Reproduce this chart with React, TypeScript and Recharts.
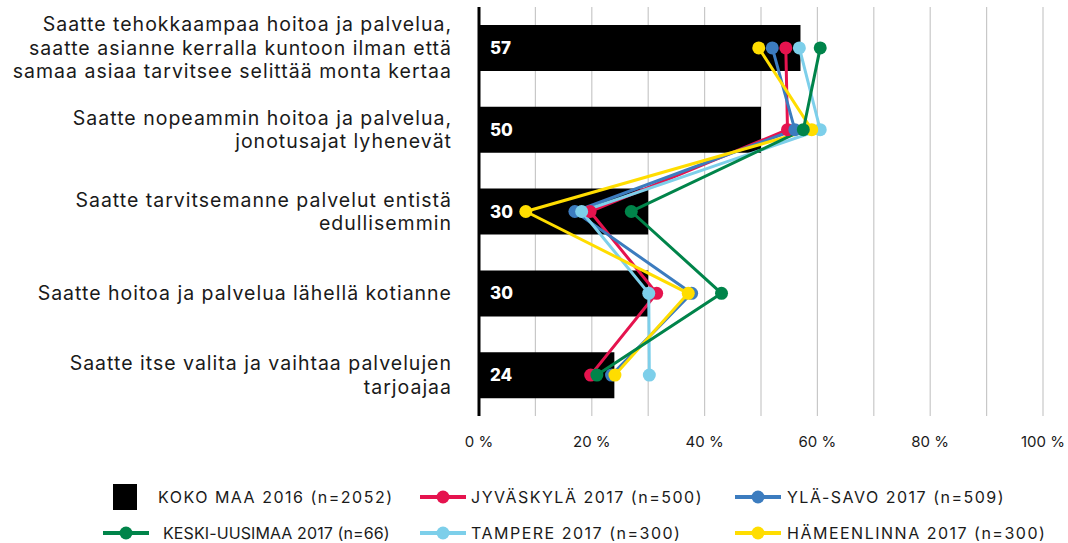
import React from 'react';
import { ComposedChart, Bar, Line, XAxis, YAxis, CartesianGrid, LabelList, Legend } from 'recharts';

const categories = [
  'Saatte tehokkaampaa hoitoa ja palvelua,\nsaatte asianne kerralla kuntoon ilman että\nsamaa asiaa tarvitsee selittää monta kertaa',
  'Saatte nopeammin hoitoa ja palvelua,\njonotusajat lyhenevät',
  'Saatte tarvitsemanne palvelut entistä\nedullisemmin',
  'Saatte hoitoa ja palvelua lähellä kotianne',
  'Saatte itse valita ja vaihtaa palvelujen\ntarjoajaa',
];

const kokoMaa = [57, 50, 30, 30, 24];
const jyvaskyla = [54.4, 54.7, 19.7, 31.5, 19.8];
const ylaSavo = [52, 56, 17, 37.7, 23.5];
const keskiUusimaa = [60.5, 57.5, 27, 43, 20.9];
const tampere = [56.8, 60.5, 18.2, 30.1, 30.2];
const hameenlinna = [49.6, 59, 8.3, 37.1, 24.1];

// gridlines every 10 %, labels every 20 %
const xTicks = [0, 10, 20, 30, 40, 50, 60, 70, 80, 90, 100];

const data = categories.map((name, i) => ({
  name,
  koko: kokoMaa[i],
  jyv: jyvaskyla[i],
  yla: ylaSavo[i],
  keski: keskiUusimaa[i],
  tampere: tampere[i],
  hame: hameenlinna[i],
}));

const series = [
  { key: 'jyv', label: 'JYVÄSKYLÄ 2017 (n=500)', color: '#E5134E' },
  { key: 'yla', label: 'YLÄ-SAVO 2017 (n=509)', color: '#3C7CBF' },
  { key: 'tampere', label: 'TAMPERE 2017 (n=300)', color: '#7DCFEA' },
  { key: 'hame', label: 'HÄMEENLINNA 2017 (n=300)', color: '#FFDD00' },
  { key: 'keski', label: 'KESKI-UUSIMAA 2017 (n=66)', color: '#00844A' },
];

const FONT = 'Inter, "Noto Sans", sans-serif';
const LINE_H = 23.5;

const CategoryTick = (props: any) => {
  const { y, payload } = props;
  const lines = String(payload.value).split('\n');
  const startY = y - ((lines.length - 1) * LINE_H) / 2;
  return (
    <text x={452} y={startY} textAnchor="end" fontSize={19.5} letterSpacing={1} fill="#1a1a1a" fontFamily={FONT}>
      {lines.map((l, i) => (
        <tspan key={i} x={452} dy={i === 0 ? '0.35em' : LINE_H}>
          {l}
        </tspan>
      ))}
    </text>
  );
};

const LineIcon = ({ color }: { color: string }) => (
  <svg width={46} height={14} style={{ position: 'absolute', top: -7 }}>
    <line x1={0} y1={7} x2={46} y2={7} stroke={color} strokeWidth={4} />
    <circle cx={23} cy={7} r={6.5} fill={color} />
  </svg>
);

const legendItems = [
  { label: 'KOKO MAA 2016 (n=2052)', color: '#000', bar: true, icon: 113, text: 158, row: 0 },
  { label: series[0].label, color: series[0].color, icon: 420, text: 471, row: 0 },
  { label: series[1].label, color: series[1].color, icon: 735, text: 787, row: 0 },
  { label: series[4].label, color: series[4].color, icon: 103, text: 163, row: 1 },
  { label: series[2].label, color: series[2].color, icon: 420, text: 471, row: 1 },
  { label: series[3].label, color: series[3].color, icon: 735, text: 787, row: 1 },
];

const ChartLegend = () => (
  <div style={{ position: 'relative', width: 1068, height: 80, fontFamily: FONT }}>
    {legendItems.map((it, i) => {
      const cy = it.row === 0 ? 34 : 70;
      return (
        <React.Fragment key={i}>
          <div style={{ position: 'absolute', left: it.icon, top: cy }}>
            {it.bar ? (
              <div style={{ position: 'absolute', top: -13, width: 24, height: 26, background: '#000' }} />
            ) : (
              <LineIcon color={it.color} />
            )}
          </div>
          <div
            style={{
              position: 'absolute',
              left: it.text,
              top: cy - 10,
              fontSize: 16,
              lineHeight: '20px',
              letterSpacing: i === 3 ? 0.1 : 1.5,
              color: '#1a1a1a',
              whiteSpace: 'nowrap',
            }}
          >
            {it.label}
          </div>
        </React.Fragment>
      );
    })}
  </div>
);

export default function App() {
  return (
    <div style={{ position: 'absolute', left: 0, top: 0, width: 1068, height: 543, background: '#fff' }}>
      <ComposedChart
        width={1068}
        height={543}
        data={data}
        layout="vertical"
        margin={{ top: 7, right: 25, bottom: 0, left: 0 }}
      >
        <CartesianGrid horizontal={false} stroke="#c8c8c8" strokeWidth={1.2} />
        <XAxis
          type="number"
          domain={[0, 100]}
          ticks={xTicks}
          tickFormatter={(v) => (v % 20 === 0 ? `${v} %` : '')}
          axisLine={false}
          tickLine={false}
          height={47}
          tickMargin={14}
          interval={0}
          tick={{ fontSize: 15, fill: '#1a1a1a', fontFamily: FONT }}
        />
        <YAxis
          type="category"
          dataKey="name"
          width={479}
          axisLine={{ stroke: '#000', strokeWidth: 3 }}
          tickLine={false}
          tick={<CategoryTick />}
          interval={0}
        />
        <Legend verticalAlign="bottom" content={<ChartLegend />} wrapperStyle={{ left: 0, width: 1068, height: 80 }} />
        <Bar dataKey="koko" fill="#000" barSize={46} isAnimationActive={false}>
          <LabelList
            dataKey="koko"
            position="insideLeft"
            offset={11}
            fill="#fff"
            fontSize={17}
            fontWeight={800}
            fontFamily={FONT}
          />
        </Bar>
        {series.map((s) => (
          <Line
            key={s.key}
            dataKey={s.key}
            stroke={s.color}
            strokeWidth={3}
            dot={{ r: 6.5, fill: s.color, stroke: s.color, strokeWidth: 0 }}
            activeDot={false}
            isAnimationActive={false}
          />
        ))}
      </ComposedChart>
    </div>
  );
}
